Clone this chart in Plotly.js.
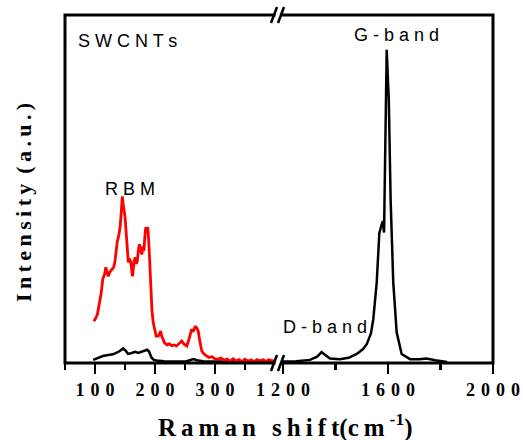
<!DOCTYPE html>
<html>
<head>
<meta charset="utf-8">
<script src="https://cdn.plot.ly/plotly-3.0.1.min.js"></script>
<style>html,body{margin:0;padding:0;background:#fff;}</style>
</head>
<body>
<div id="chart" style="width:523px;height:440px;"></div>
<script>
// RBM region (red), low-frequency
const redX = [98, 101, 104, 107, 110, 113, 116, 118, 120, 122, 125, 128, 131, 133, 135, 137, 140, 142, 144, 145.5,
  147, 150, 153, 155.5, 157, 159.5, 161, 162.5, 165, 167, 169, 170.5, 172, 174, 176, 178, 180, 181.5, 183, 184.5,
  186, 188, 190, 191.5, 193, 195, 197, 200, 202, 205.5, 207, 209.5, 211, 213, 216, 220, 224, 228, 232, 236,
  240, 244.5, 248, 253, 257, 261, 264, 267, 270, 272, 275, 278, 282, 286, 290, 295, 300, 305, 310, 315,
  320, 325, 330, 335, 340, 345, 350, 355, 360, 365, 370, 375, 380, 385, 390, 395, 400, 403];
const redY = [0.12, 0.128, 0.14, 0.17, 0.198, 0.241, 0.255, 0.275, 0.262, 0.249, 0.262, 0.269, 0.275, 0.289, 0.32, 0.347, 0.37, 0.393, 0.44, 0.479,
  0.455, 0.421, 0.35, 0.289, 0.30, 0.292, 0.27, 0.249, 0.29, 0.304, 0.285, 0.292, 0.32, 0.341, 0.325, 0.312, 0.335, 0.322, 0.36, 0.39,
  0.385, 0.39, 0.335, 0.27, 0.203, 0.15, 0.117, 0.09, 0.077, 0.077, 0.085, 0.092, 0.078, 0.069, 0.058, 0.052, 0.055, 0.05, 0.052, 0.049,
  0.056, 0.063, 0.055, 0.049, 0.07, 0.097, 0.09, 0.106, 0.1, 0.092, 0.06, 0.034, 0.025, 0.02, 0.016, 0.018, 0.012, 0.011, 0.014, 0.008,
  0.011, 0.005, 0.012, 0.006, 0.01, 0.004, 0.011, 0.005, 0.009, 0.004, 0.01, 0.006, 0.009, 0.005, 0.009, 0.006, 0.008, 0.007];
// black spectrum, low-frequency part
const blackLX = [97, 105, 113, 122, 130, 140, 147, 151, 155, 160, 167, 172, 175, 181, 187, 190, 194, 198, 203, 215, 230, 250, 258, 264, 270, 280, 300, 330, 360, 400];
const blackLY = [0.009, 0.014, 0.02, 0.023, 0.025, 0.033, 0.042, 0.036, 0.026, 0.028, 0.032, 0.029, 0.031, 0.033, 0.038, 0.033, 0.016, 0.009, 0.007, 0.005, 0.005, 0.004, 0.008, 0.011, 0.008, 0.005, 0.004, 0.004, 0.004, 0.004];
// black spectrum, D and G band part
const blackRX = [1192, 1250, 1303, 1330, 1347, 1362, 1379, 1417, 1450, 1481, 1505, 1519, 1535, 1544, 1557, 1567, 1580, 1585, 1590, 1595, 1603, 1610, 1620, 1633, 1652, 1684, 1720, 1747, 1780, 1811, 1825];
const blackRY = [0.004, 0.005, 0.009, 0.018, 0.031, 0.022, 0.013, 0.011, 0.015, 0.026, 0.04, 0.054, 0.085, 0.126, 0.231, 0.374, 0.408, 0.375, 0.66, 0.9, 0.756, 0.47, 0.232, 0.088, 0.026, 0.011, 0.011, 0.013, 0.008, 0.004, 0.003];

const leftTicks = [100, 200, 300];
const leftTickText = ['1 \u200a0 \u200a0', '2 \u200a0 \u200a0', '3 \u200a0 \u200a0'];
const leftMinor = [50, 150, 250, 350];
const rightTicks = [1200, 1600, 2000];
const rightTickText = ['1 \u200a2 \u200a0 \u200a0', '1 \u200a6 \u200a0 \u200a0', '2 \u200a0 \u200a0 \u200a0'];
const rightMinor = [1400, 1800];

const serifBold = {family: '"Liberation Serif", "Times New Roman", serif', size: 18, color: '#000', weight: 'bold'};
const sans = {family: '"Liberation Sans", Arial, sans-serif', size: 18, color: '#000'};

const traces = [
  {x: blackLX, y: blackLY, xaxis: 'x', yaxis: 'y', mode: 'lines', line: {color: '#000', width: 2.5}, hoverinfo: 'skip'},
  {x: redX, y: redY, xaxis: 'x', yaxis: 'y', mode: 'lines', line: {color: '#ff0000', width: 2.8}, hoverinfo: 'skip'},
  {x: blackRX, y: blackRY, xaxis: 'x2', yaxis: 'y', mode: 'lines', line: {color: '#000', width: 2.5}, hoverinfo: 'skip'}
];

function px(x) { return (x - 65) / 428; }
function py(y) { return (363 - y) / 348; }

const axBase = {
  showgrid: false, zeroline: false, showline: false,
  ticks: 'outside', ticklen: 10, tickwidth: 2.5, tickcolor: '#000',
  tickfont: serifBold, tickmode: 'array', anchor: 'y'
};

const layout = {
  width: 523, height: 440,
  margin: {l: 65, r: 30, t: 15, b: 77},
  paper_bgcolor: '#fff', plot_bgcolor: '#fff',
  showlegend: false,
  xaxis: Object.assign({}, axBase, {
    domain: [0, 210 / 428], range: [50, 400],
    tickvals: leftTicks, ticktext: leftTickText,
    minor: {tickmode: 'array', tickvals: leftMinor, ticks: 'outside', ticklen: 6, tickwidth: 2.5, tickcolor: '#000'}
  }),
  xaxis2: Object.assign({}, axBase, {
    domain: [(280.9 - 65) / 428, 1], range: [1192, 2000],
    tickvals: rightTicks, ticktext: rightTickText,
    minor: {tickmode: 'array', tickvals: rightMinor, ticks: 'outside', ticklen: 6, tickwidth: 2.5, tickcolor: '#000'}
  }),
  yaxis: {range: [0, 1], showgrid: false, zeroline: false, showline: false, showticklabels: false, ticks: ''},
  shapes: [
    {type: 'rect', xref: 'paper', yref: 'paper', x0: 0, x1: 1, y0: 0, y1: 1, line: {color: '#000', width: 3}, layer: 'above'},
    {type: 'line', xref: 'paper', yref: 'paper', x0: px(275.5), x1: px(280.5), y0: 1, y1: 1, line: {color: '#fff', width: 5}, layer: 'above'},
    {type: 'line', xref: 'paper', yref: 'paper', x0: px(275.5), x1: px(280.5), y0: 0, y1: 0, line: {color: '#fff', width: 5}, layer: 'above'},
    {type: 'line', xref: 'paper', yref: 'paper', x0: px(271), x1: px(277), y0: py(23), y1: py(7), line: {color: '#000', width: 2.5}, layer: 'above'},
    {type: 'line', xref: 'paper', yref: 'paper', x0: px(278), x1: px(284), y0: py(23), y1: py(7), line: {color: '#000', width: 2.5}, layer: 'above'},
    {type: 'line', xref: 'paper', yref: 'paper', x0: px(271), x1: px(277), y0: py(371), y1: py(355), line: {color: '#000', width: 2.5}, layer: 'above'},
    {type: 'line', xref: 'paper', yref: 'paper', x0: px(278), x1: px(284), y0: py(371), y1: py(355), line: {color: '#000', width: 2.5}, layer: 'above'}
  ],
  annotations: [
    {text: 'S W C N T s', xref: 'paper', yref: 'paper', x: px(76), y: py(41), xanchor: 'left', yanchor: 'middle', showarrow: false, font: sans},
    {text: 'R B M', xref: 'paper', yref: 'paper', x: px(130), y: py(189), xanchor: 'center', yanchor: 'middle', showarrow: false, font: sans},
    {text: 'G - b a n d', xref: 'paper', yref: 'paper', x: px(396.5), y: py(35), xanchor: 'center', yanchor: 'middle', showarrow: false, font: sans},
    {text: 'D - b a n d', xref: 'paper', yref: 'paper', x: px(324.5), y: py(327), xanchor: 'center', yanchor: 'middle', showarrow: false, font: sans},
    {text: 'I\u2009n\u2009t\u2009e\u2009n\u2009s\u2009i\u2009t\u2009y\u2009 (\u2009a\u2009.\u2009u\u2009.\u2009)', xref: 'paper', yref: 'paper', x: px(23), y: py(203), textangle: -90, xanchor: 'center', yanchor: 'middle', showarrow: false,
     font: {family: serifBold.family, size: 22, color: '#000', weight: 'bold'}},
    {text: 'R\u2009a\u2009m\u2009a\u2009n\u2009 \u2009s\u2009h\u2009i\u2009f\u2009t(c\u2009m\u2009<sup>-1</sup>)', xref: 'paper', yref: 'paper', x: px(285), y: py(425), xanchor: 'center', yanchor: 'middle', showarrow: false,
     font: {family: serifBold.family, size: 25, color: '#000', weight: 'bold'}}
  ]
};

Plotly.newPlot('chart', traces, layout, {displayModeBar: false, staticPlot: true});
</script>
</body>
</html>
